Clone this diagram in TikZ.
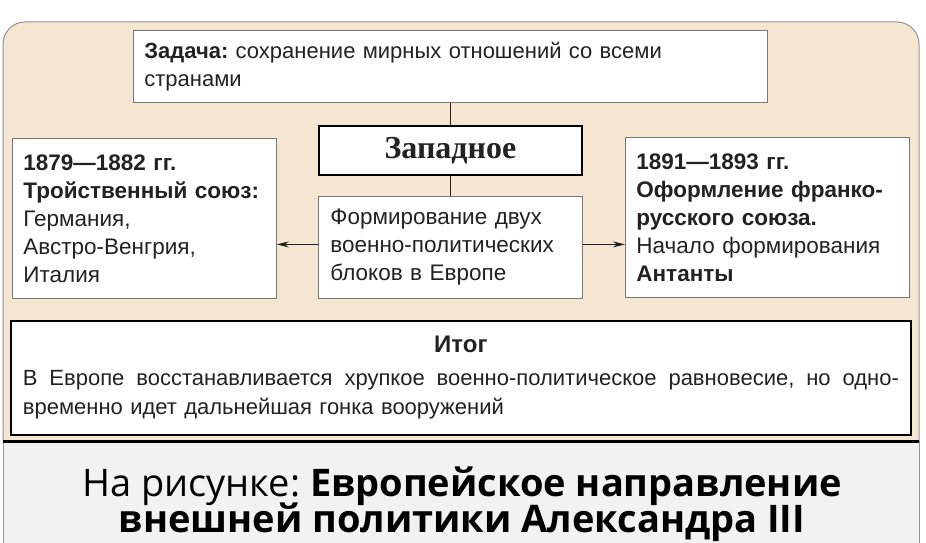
\documentclass[tikz,border=0pt]{standalone}
\usepackage{fontspec}
\setmainfont{Liberation Sans}
\newfontfamily\westfont{Liberation Serif}
\newfontfamily\capfont{Open Sans}
\usetikzlibrary{arrows.meta}
\frenchspacing

\definecolor{paneltan}{RGB}{245,230,209}
\definecolor{capgray}{RGB}{242,242,242}
\definecolor{framegray}{RGB}{150,150,150}
\definecolor{boxgray}{RGB}{120,120,120}
\definecolor{inkgray}{RGB}{34,34,34}

\tikzset{
  box/.style={draw=boxgray, line width=0.8pt, fill=white, anchor=north west,
    inner xsep=11pt, inner ysep=0pt, align=left, text=inkgray,
    font=\fontsize{22.5}{28}\selectfont},
  headbox/.style={draw=black, line width=1.8pt, fill=white, anchor=north west,
    inner sep=0pt, text=inkgray},
  link/.style={draw=inkgray, line width=0.9pt},
  arrow/.style={link, -{Stealth[length=12pt,width=6pt]}}
}

\begin{document}
\begin{tikzpicture}[x=1pt, y=-1pt]
\useasboundingbox (0,0) rectangle (926,543);
\fill[white] (0,0) rectangle (926,543);
\path[fill=paneltan, draw=framegray, line width=1pt, rounded corners=22pt]
  (3,441) -- (3,22) -- (919,22) -- (919,441);
\fill[capgray] (3,441) rectangle (919,543);
\draw[framegray, line width=1pt] (3,441) -- (3,543) (919,441) -- (919,543);
\draw[black, line width=3pt] (3,441) -- (919,441);

\node[box, text width=612pt, minimum height=72pt, font=\fontsize{22}{28}\selectfont] (task) at (133,30)
  {\textbf{Задача:} сохранение мирных отношений со всеми\\странами};
\node[headbox, minimum width=263pt, minimum height=49pt,
  font=\westfont\bfseries\fontsize{32}{32}\selectfont] (west) at (318,125) {Западное};
\node[box, text width=242pt, minimum height=160pt] (triple) at (12,138)
  {\textbf{1879—1882 гг.}\\\textbf{Тройственный союз:}\\Германия,\\Австро-Венгрия,\\Италия};
\node[box, inner xsep=12pt, text width=240pt, minimum height=102pt] (mid) at (318,196)
  {Формирование двух\\военно-политических\\блоков в Европе};
\node[box, text width=262pt, minimum height=160pt] (entente) at (625,137)
  {\textbf{1891—1893 гг.}\\\textbf{Оформление франко-}\\\textbf{русского союза.}\\Начало формирования\\\textbf{Антанты}};
\node[headbox, minimum width=900pt, minimum height=114pt, text width=876pt, align=left,
  font=\fontsize{22}{29}\selectfont] (result) at (10,320)
  {\makebox[876pt]{\fontsize{24}{28}\selectfont\bfseries Итог}\\[4pt]
   \leavevmode\hbox to 876pt{\spaceskip=0.28em plus 1fil\relax В Европе восстанавливается хрупкое военно-политическое равновесие, но одно-}\\
   временно идет дальнейшая гонка вооружений};

\draw[link] (task.south) -- (west.north);
\draw[link] (west.south) -- (mid.north);
\coordinate (split) at ([yshift=3pt]mid.west);
\coordinate (fork) at ([yshift=3pt]mid.east);
\draw[arrow] (split) -- (split -| triple.east);
\draw[arrow] (fork) -- (fork -| entente.west);

\node[anchor=base, font=\capfont\fontsize{38}{40}\selectfont, text=black] (cap1) at (462,496)
  {На рисунке: \textbf{Европейское направление}};
\node[anchor=base, font=\capfont\bfseries\fontsize{38}{40}\selectfont, text=black] (cap2) at (462,532)
  {внешней политики Александра III};
\end{tikzpicture}
\end{document}
